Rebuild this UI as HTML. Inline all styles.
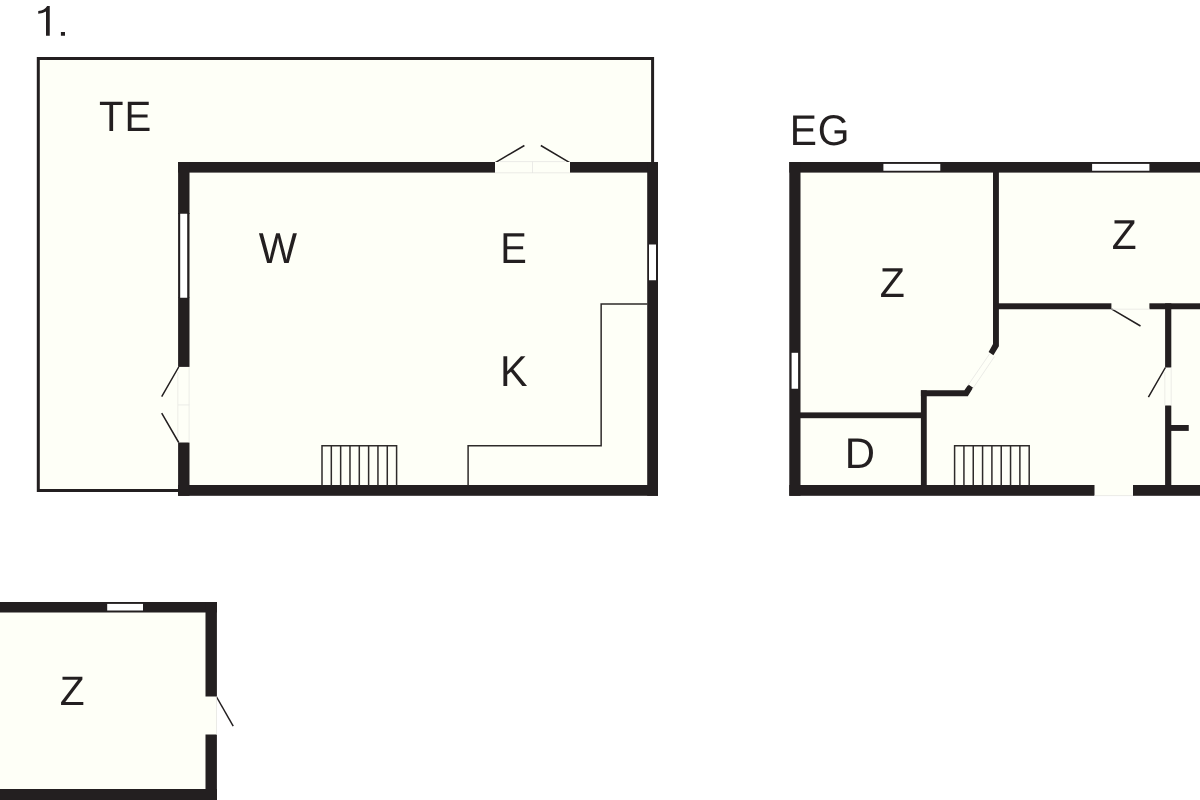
<!DOCTYPE html>
<html lang="de"><head><meta charset="utf-8"><title>Grundriss</title>
<style>
html,body{margin:0;padding:0;background:#fff;}
body{width:1200px;height:800px;overflow:hidden;}
svg{display:block;will-change:transform;}
text{font-family:"Liberation Sans",sans-serif;fill:#231f20;text-rendering:geometricPrecision;}
.w{fill:#231f20;}
.c{fill:#fefff7;}
.t{stroke:#2e2b2a;stroke-width:1.5;fill:none;stroke-linejoin:miter;}
.d{stroke:#231f20;stroke-width:1.5;fill:none;}
.win{fill:#fff;}
</style></head><body>
<svg width="1200" height="800" viewBox="0 0 1200 800">
<!-- fills -->
<rect class="c" x="38" y="58" width="615" height="432"/>
<rect class="c" x="185" y="168" width="468" height="322"/>
<rect class="c" x="795" y="168" width="405" height="322"/>
<rect class="c" x="0" y="607" width="211" height="193"/>
<rect class="c" x="205" y="696.4" width="11.6" height="38.5"/>
<rect class="c" x="1094.7" y="484" width="37.8" height="11.9"/>

<!-- Plan 1: terrace outline -->
<path d="M184 490.5 H38.3 V58.6 H652.6 V165" fill="none" stroke="#231f20" stroke-width="3"/>

<!-- Plan 1 walls -->
<rect class="w" x="178.1" y="162" width="316.9" height="10.6"/>
<rect class="w" x="570" y="162" width="88" height="10.6"/>
<rect class="w" x="647.2" y="162" width="10.8" height="333.8"/>
<rect class="w" x="178.1" y="485" width="479.9" height="10.8"/>
<rect class="w" x="178.1" y="162" width="11.4" height="52"/>
<rect class="w" x="178.1" y="297.5" width="11.4" height="69.4"/>
<rect class="w" x="178.1" y="442.5" width="11.4" height="53.3"/>
<!-- left window -->
<rect class="w" x="178.1" y="213" width="11.4" height="85"/>
<rect class="win" x="180.2" y="213.75" width="7" height="84"/>
<!-- right window -->
<rect class="win" x="649" y="244.5" width="7" height="35.75"/>
<!-- top double door -->
<path class="d" d="M494.9 162.8 L524.4 145.5 M570.1 162.8 L540.8 145.5"/>
<rect x="495" y="162" width="75" height="11" fill="#fefff7"/>
<path d="M495 172.8 H570 M500 161.6 H565 M532.5 161.5 V173" stroke="#e6e6e2" stroke-width="0.8" fill="none"/>
<!-- left double door -->
<path class="d" d="M178.7 367 L161.7 396.6 M178.7 442.5 L161.7 413.2"/>
<path d="M189.1 367 V442.5 M177.8 372 V438 M178 404.9 H189.3" stroke="#e9e9e5" stroke-width="0.8" fill="none"/>
<!-- kitchen counter -->
<path class="t" d="M647.5 303.9 H601.15 V445.8 H468.1 V485.5"/>
<!-- stairs 1 -->
<path class="t" d="M322 485.5 V445.8 H396.6 V485.5 M331.32 445.8 V485.5 M340.65 445.8 V485.5 M349.98 445.8 V485.5 M359.30 445.8 V485.5 M368.62 445.8 V485.5 M377.95 445.8 V485.5 M387.28 445.8 V485.5"/>

<!-- Plan EG walls -->
<rect class="w" x="789.3" y="162" width="410.7" height="10.6"/>
<rect class="w" x="789.3" y="162" width="11.2" height="333.8"/>
<rect class="w" x="789.3" y="485" width="305.2" height="10.8"/>
<rect class="w" x="1133" y="485" width="67" height="10.8"/>
<rect class="win" x="883.4" y="163.9" width="56.9" height="6.85"/>
<rect class="win" x="1092.1" y="163.9" width="57.3" height="6.85"/>
<rect class="win" x="791.6" y="352.8" width="6.5" height="35.95"/>
<!-- interior -->
<path class="w" d="M993 172 H998.9 V346.25 L993.4 355.3 L988.6 352 L993 344 Z"/>
<rect class="w" x="998" y="303.3" width="113.4" height="5.95"/>
<rect class="w" x="1149.4" y="303.3" width="50.6" height="5.95"/>
<rect class="w" x="1165.1" y="303.3" width="6.2" height="64.2"/>
<rect class="w" x="1165.1" y="405.5" width="6.2" height="80"/>
<rect class="w" x="1171" y="425" width="17.75" height="5.9"/>
<rect class="w" x="800" y="412.4" width="126" height="5.8"/>
<rect class="w" x="920.9" y="390.3" width="5.85" height="95"/>
<path class="w" d="M920.9 390.3 H964.4 L968.4 384.4 L973.1 387.8 L967.8 396.25 H920.9 Z"/>
<!-- doors -->
<path class="d" d="M1111.4 308.9 L1140.5 326 M1165.4 367.5 L1148.4 397.2"/>
<path d="M1111.3 309.2 H1150 M1171.2 367.5 V405.5 M1164.8 372 V405.5" stroke="#e9e9e5" stroke-width="0.8" fill="none"/>
<path d="M989.5 354 L967.5 386 M994.5 356.5 L972.5 389" stroke="#e6e6e2" stroke-width="0.8" fill="none"/>
<path d="M1094.5 495.6 H1133" stroke="#e6e6e2" stroke-width="0.8" fill="none"/>
<!-- stairs 2 -->
<path class="t" d="M954.6 485.5 V445.8 H1029.2 V485.5 M963.93 445.8 V485.5 M973.25 445.8 V485.5 M982.58 445.8 V485.5 M991.90 445.8 V485.5 M1001.23 445.8 V485.5 M1010.55 445.8 V485.5 M1019.88 445.8 V485.5"/>

<!-- Plan bottom-left -->
<rect class="w" x="0" y="602" width="216.9" height="10.5"/>
<rect class="w" x="205.5" y="602" width="11.4" height="94.5"/>
<rect class="w" x="205.5" y="734.5" width="11.4" height="65.5"/>
<rect class="w" x="0" y="789" width="216.9" height="11"/>
<rect class="win" x="107.2" y="603.9" width="35.8" height="6.6"/>
<path class="d" d="M216.3 696.5 L233.2 726.1"/>
<path d="M216.5 696.5 V734.5" stroke="#e6e6e2" stroke-width="0.8" fill="none"/>

<!-- labels -->
<g role="img" aria-label="1." fill="#231f20"><title>1.</title>
<path d="M46 6 H49.75 V35.75 H46 V11.6 Q43 13.6 38.25 13.7 V10.9 Q44.6 10.5 47.1 6 Z"/>
<rect x="60.9" y="32" width="4.1" height="3.75"/>
</g>
<g class="lb" font-size="40">
<text transform="translate(99.00,130.70) scale(1.004,1.0611)">T<tspan x="25.31">E</tspan></text>
<text transform="translate(258.82,262.70) scale(1.0149,1.0792)">W</text>
<text transform="translate(500.23,262.70) scale(0.9963,1.0792)">E</text>
<text transform="translate(499.91,385.70) scale(1.0327,1.0792)">K</text>
<text transform="translate(789.65,145.00) scale(1.02,1.0725)">E<tspan x="27.65">G</tspan></text>
<text transform="translate(879.70,296.70) scale(1.0267,1.0429)">Z</text>
<text transform="translate(1111.71,248.70) scale(1.0176,1.0429)">Z</text>
<text transform="translate(844.77,467.80) scale(1.0468,1.0720)">D</text>
<text transform="translate(59.71,705.20) scale(1.0176,1.0284)">Z</text>
</g>
</svg>
</body></html>
